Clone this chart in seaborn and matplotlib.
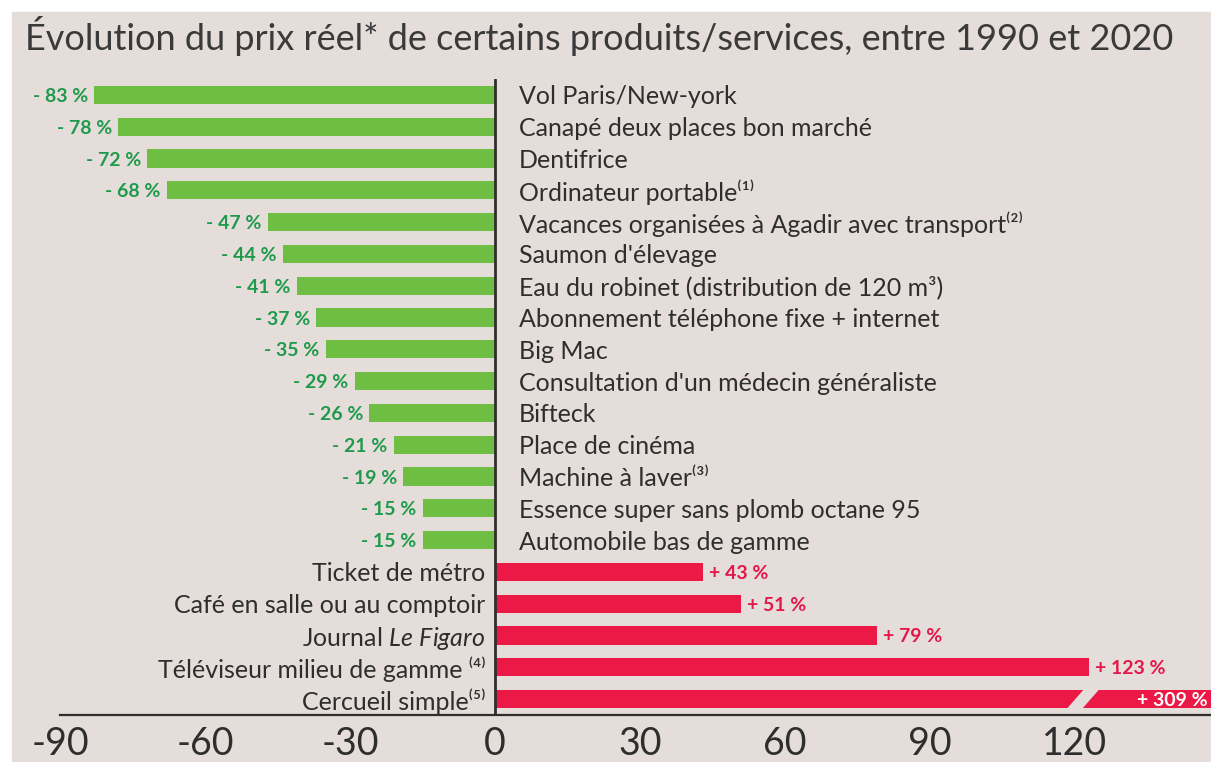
import pandas as pd
import seaborn as sns
import matplotlib.pyplot as plt
from matplotlib.patches import Rectangle, Polygon

# -----------------------
# Data
# -----------------------
produits = [
    "Vol Paris/New-york",
    "Canapé deux places bon marché",
    "Dentifrice",
    "Ordinateur portable⁽¹⁾",
    "Vacances organisées à Agadir avec transport⁽²⁾",
    "Saumon d'élevage",
    "Eau du robinet (distribution de 120 m³)",
    "Abonnement téléphone fixe + internet",
    "Big Mac",
    "Consultation d'un médecin généraliste",
    "Bifteck",
    "Place de cinéma",
    "Machine à laver⁽³⁾",
    "Essence super sans plomb octane 95",
    "Automobile bas de gamme",
    "Ticket de métro",
    "Café en salle ou au comptoir",
    r"Journal $\mathit{Le\ Figaro}$",
    "Téléviseur milieu de gamme ⁽⁴⁾",
    "Cercueil simple⁽⁵⁾",
]
variation = [-83, -78, -72, -68, -47, -44, -41, -37, -35, -29,
             -26, -21, -19, -15, -15, 43, 51, 79, 123, 309]
ticks = [-90, -60, -30, 0, 30, 60, 90, 120]

df = pd.DataFrame({"produit": produits, "valeur": variation})
df["signe"] = ["baisse" if v < 0 else "hausse" for v in variation]

# -----------------------
# Style
# -----------------------
BG = "#e5ddd9"
GREEN, GREEN_TXT = "#6fbe44", "#1f9a4c"
RED, RED_TXT = "#ec1846", "#e2184a"
DARK = "#2e2e2e"
XMAX = 148.2  # broken axis: 309 % is cut

sns.set_theme(style="white")
plt.rcParams["font.family"] = ["Lato", "DejaVu Sans"]
plt.rcParams["mathtext.fontset"] = "custom"
plt.rcParams["mathtext.rm"] = "Lato"
plt.rcParams["mathtext.it"] = "Lato:italic"

fig = plt.figure(figsize=(12.11, 7.62), dpi=100, facecolor="white")
fig.patches.append(Rectangle((12 / 1211, 0), 1, (762 - 12) / 762,
                             transform=fig.transFigure, color=BG, zorder=-10))
ax = fig.add_axes([12 / 1211, 47 / 762, 1 - 12 / 1211, 636 / 762])
ax.set_facecolor("none")

sns.barplot(data=df, x="valeur", y="produit", hue="signe", orient="h",
            palette={"baisse": GREEN, "hausse": RED}, dodge=False,
            saturation=1, width=0.57, linewidth=0, legend=False, ax=ax)

ax.set_xlim(-100, XMAX)
ax.set_ylim(len(produits) - 0.5, -0.5)
ax.axvline(0, color=DARK, lw=2, zorder=5)

# break mark on the last bar
yb = len(produits) - 1
h = 0.33
ax.add_patch(Polygon([(118.4, yb + h), (121.2, yb + h), (125.0, yb - h), (122.2, yb - h)],
                     closed=True, color=BG, zorder=6))

# labels
for i, (nom, v) in enumerate(zip(produits, variation)):
    if v < 0:
        ax.text(5, i, nom, ha="left", va="center_baseline", fontsize=18, color=DARK)
        ax.text(v - 1.3, i, f"- {abs(v)} %", ha="right", va="center_baseline",
                fontsize=14, fontweight="bold", color=GREEN_TXT)
    else:
        ax.text(-2, i, nom, ha="right", va="center_baseline", fontsize=18, color=DARK)
        if v > XMAX:
            ax.text(XMAX - 0.7, i, f"+ {v} %", ha="right", va="center_baseline",
                    fontsize=14, fontweight="bold", color="white", zorder=7)
        else:
            ax.text(v + 1.2, i, f"+ {v} %", ha="left", va="center_baseline",
                    fontsize=14, fontweight="bold", color=RED_TXT)

# axes
sns.despine(ax=ax, left=True, top=True, right=True)
ax.spines["bottom"].set_color(DARK)
ax.spines["bottom"].set_linewidth(1.6)
ax.spines["bottom"].set_bounds(-90, XMAX)
ax.set_xticks(ticks)
ax.set_xticklabels([str(t) for t in ticks])
ax.tick_params(axis="x", length=0, pad=8, labelsize=27, labelcolor=DARK)
ax.set_yticks([])
ax.set_xlabel("")
ax.set_ylabel("")

fig.text(25 / 1211, 1 - 36 / 762,
         "Évolution du prix réel* de certains produits/services, entre 1990 et 2020",
         ha="left", va="center", fontsize=26, color="#3a3a3a")

fig.savefig("out.png", dpi=100, facecolor=fig.get_facecolor())
